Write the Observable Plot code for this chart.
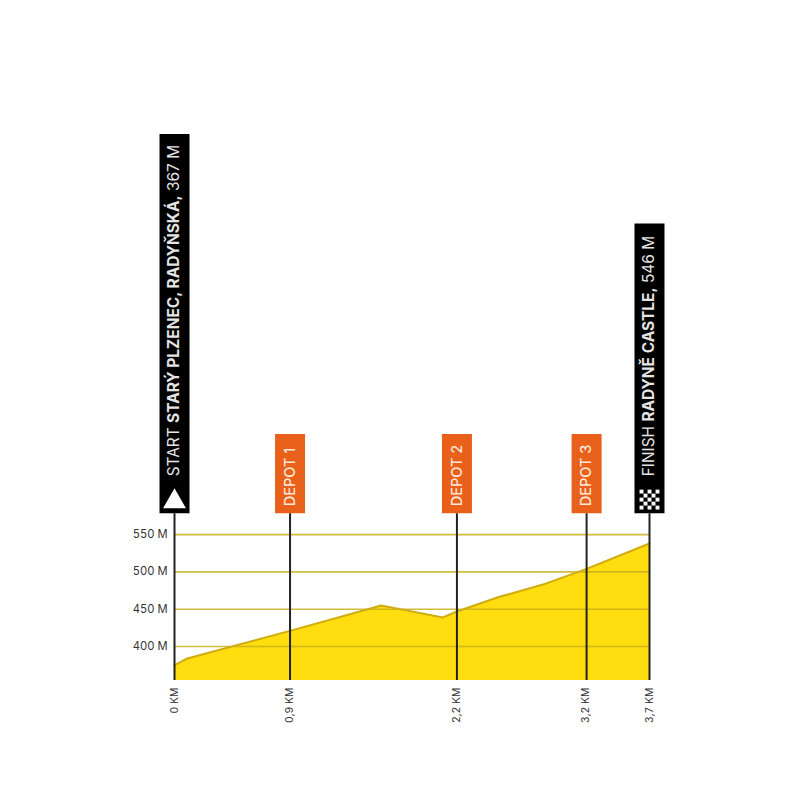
<!DOCTYPE html>
<html>
<head>
<meta charset="utf-8">
<style>html,body{margin:0;padding:0;background:#fff}svg{display:block}</style>
<script src="https://cdn.jsdelivr.net/npm/d3@7"></script>
<script src="https://cdn.jsdelivr.net/npm/@observablehq/plot@0.6"></script>
</head>
<body>
<div id="chart"></div>
<script>
// Elevation profile
const profileKm = [0, 0.10, 0.90, 1.61, 2.09, 2.20, 2.52, 2.87, 3.21, 3.70];
const profileM  = [375, 384, 421, 455, 439, 447, 466, 483, 504, 538];

const yTicks = [400, 450, 500, 550];
const xTicks = [0, 0.9, 2.2, 3.2, 3.7];
const baseM = 354.5;

// Signs (heights in the elevation scale so they share the axis)
const flagKm   = [0, 0.9, 2.2, 3.21, 3.7];
const flagBox0 = [578, 578, 578, 578, 578];
const flagTop  = [1086, 684, 684, 684, 966];
const flagTxtM = [628, 588, 588, 588, 628];
const flagFill = ["#000", "#e8601a", "#e8601a", "#e8601a", "#000"];
const flagInk  = ["#e4e4e4", "#fbe6d8", "#fbe6d8", "#fbe6d8", "#e4e4e4"];
const flagSize = [15.45, 14.5, 14.5, 14.5, 15.45];
const flagParts = [
  [["START ", 400], ["STARÝ PLZENEC, RADYŇSKÁ,", 700], [" 367 M", 400]],
  [["DEPOT 1", 500]],
  [["DEPOT 2", 500]],
  [["DEPOT 3", 500]],
  [["FINISH ", 400], ["RADYNĚ CASTLE,", 700], [" 546 M", 400]]
];
const checkerCols = [-8, -4, 0, 4, 8];
const checkerRows = [-8, -4, 0, 4, 8];

const profile = profileKm.map((km, i) => ({km, m: profileM[i]}));
const flags = flagKm.map((km, i) => ({km, y0: flagBox0[i], y1: flagTop[i], ty: flagTxtM[i], fill: flagFill[i], ink: flagInk[i], size: flagSize[i], parts: flagParts[i]}));
const checker = checkerCols.flatMap((dx, c) => checkerRows.filter((_, r) => (r + c) % 2 === 0).map(dy => ({dx, dy})));

const fontFamily = "Inter, sans-serif";

const richText = (index, scales, values, dims, ctx, next) => {
  const g = next(index, scales, values, dims, ctx);
  d3.select(g).selectAll("text").each(function(i) {
    const t = d3.select(this);
    t.text(null);
    for (const [s, w] of flags[i].parts) {
      t.append("tspan").attr("font-weight", w).style("white-space", "pre").text(s);
    }
  });
  return g;
};

const chart = Plot.plot({
  width: 800,
  height: 800,
  marginLeft: 174,
  marginRight: 151,
  marginTop: 134,
  marginBottom: 120,
  style: {fontFamily, background: "#fff"},
  x: {domain: [0, 3.7], label: null},
  y: {domain: [baseM, 1086], label: null},
  marks: [
    Plot.areaY(profile, {x: "km", y1: baseM, y2: "m", fill: "#ffdd0e"}),
    Plot.line(profile, {x: "km", y: "m", stroke: "#d0ac12", strokeWidth: 2}),
    Plot.ruleY(yTicks, {x1: 0, x2: 3.7, stroke: "#c9b01c", strokeOpacity: 0.85, strokeWidth: 1.6}),
    Plot.ruleX(flags, {x: "km", y1: baseM, y2: "y0", stroke: "#222", strokeWidth: 2}),
    Plot.ruleX(flags, {x: "km", y1: "y0", y2: "y1", stroke: "fill", strokeWidth: 30}),
    Plot.text(flags, {
      x: "km", y: "ty", text: d => d.parts.map(p => p[0]).join(""),
      rotate: -90, textAnchor: "start", lineAnchor: "middle",
      fill: "ink", fontSize: "size", render: richText
    }),
    Plot.dot([0], {x: 0, y: 554, symbol: "triangle", r: 8.5, fill: "#fff", dy: -30}),
    ...checker.map(c => Plot.dot([3.7], {x: d => d, y: 554, symbol: "square", r: 2.2, fill: "#fff", dx: c.dx, dy: c.dy - 32})),
    Plot.axisY({ticks: yTicks, tickSize: 0, tickPadding: 7, fontSize: 11.2, fill: "#333", tickFormat: d => `${d} M`}),
    Plot.axisX({ticks: xTicks, tickSize: 0, tickPadding: 7, tickRotate: -90, fontSize: 10.4, fill: "#333",
      tickFormat: d => `${String(d).replace(".", ",")} KM`})
  ]
});
document.getElementById("chart").appendChild(chart);
</script>
</body>
</html>
